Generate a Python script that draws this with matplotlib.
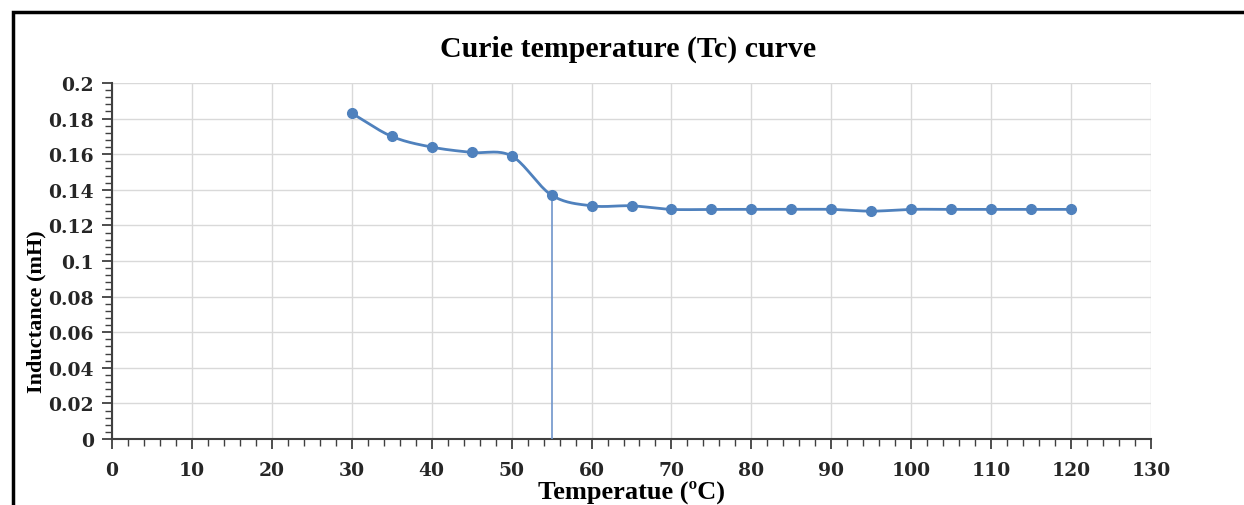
import numpy as np
import matplotlib.pyplot as plt
from matplotlib.patches import Rectangle
from matplotlib.ticker import MultipleLocator

temperature = [30, 35, 40, 45, 50, 55, 60, 65, 70, 75, 80, 85, 90, 95, 100, 105, 110, 115, 120]
inductance = [0.183, 0.170, 0.164, 0.161, 0.159, 0.137, 0.131, 0.131, 0.129, 0.129, 0.129,
              0.129, 0.129, 0.128, 0.129, 0.129, 0.129, 0.129, 0.129]
curie_temp = 55
curie_value = 0.137

blue = "#4F81BD"


def smooth_curve(xs, ys, steps=20):
    # catmull-rom through the points, like Excel's smoothed line
    xs = np.asarray(xs, float)
    ys = np.asarray(ys, float)
    px = np.concatenate([[2 * xs[0] - xs[1]], xs, [2 * xs[-1] - xs[-2]]])
    py = np.concatenate([[2 * ys[0] - ys[1]], ys, [2 * ys[-1] - ys[-2]]])
    out_x, out_y = [], []
    t = np.linspace(0, 1, steps, endpoint=False)
    for i in range(1, len(px) - 2):
        for p, out in ((px, out_x), (py, out_y)):
            p0, p1, p2, p3 = p[i - 1], p[i], p[i + 1], p[i + 2]
            out.extend(0.5 * (2 * p1 + (-p0 + p2) * t
                              + (2 * p0 - 5 * p1 + 4 * p2 - p3) * t ** 2
                              + (-p0 + 3 * p1 - 3 * p2 + p3) * t ** 3))
    out_x.append(xs[-1])
    out_y.append(ys[-1])
    return out_x, out_y


fig = plt.figure(figsize=(12.44, 5.06), dpi=100)
fig.patches.append(Rectangle((13 / 1244, -0.1), 1.2, 1 - 13 / 506 + 0.1,
                             transform=fig.transFigure, fill=False,
                             edgecolor="black", linewidth=2.5))

ax = fig.add_axes([112 / 1244, 1 - 440 / 506, (1151 - 112) / 1244, (440 - 84) / 506])

sx, sy = smooth_curve(temperature, inductance)
ax.plot(sx, sy, color=blue, linewidth=2, zorder=3)
ax.plot(temperature, inductance, "o", color=blue, markersize=7, zorder=4)
ax.plot([curie_temp, curie_temp], [0, curie_value], color="#6F95CB", linewidth=1.2, zorder=3)

ax.set_xlim(0, 130)
ax.set_ylim(0, 0.2)
ax.xaxis.set_major_locator(MultipleLocator(10))
ax.xaxis.set_minor_locator(MultipleLocator(2))
ax.yaxis.set_major_locator(MultipleLocator(0.02))
ax.yaxis.set_minor_locator(MultipleLocator(0.004))
ax.set_yticks(np.arange(0, 0.2001, 0.02))
ax.set_yticklabels(["0", "0.02", "0.04", "0.06", "0.08", "0.1", "0.12", "0.14",
                    "0.16", "0.18", "0.2"])

ax.grid(True, which="major", color="#D9D9D9", linewidth=1)
ax.set_axisbelow(True)
for side in ("top", "right"):
    ax.spines[side].set_visible(False)
for side in ("left", "bottom"):
    ax.spines[side].set_color("#404040")
    ax.spines[side].set_linewidth(1.5)

ax.tick_params(which="major", direction="out", length=7, width=1.3, color="#404040")
ax.tick_params(axis="x", which="major", pad=9)
ax.tick_params(axis="y", which="major", pad=6)
ax.tick_params(which="minor", direction="out", length=5, width=1, color="#404040")
for lbl in ax.get_xticklabels() + ax.get_yticklabels():
    lbl.set_fontfamily("DejaVu Serif")
    lbl.set_fontweight("bold")
    lbl.set_fontsize(13.5)
    lbl.set_color("#262626")

fig.text(628 / 1244, 1 - 49 / 506, "Curie temperature (Tc) curve", ha="center", va="center",
         family="Liberation Serif", weight="bold", fontsize=21.5)
fig.text(632 / 1244, 1 - 492 / 506, "Temperatue (\u00baC)", ha="center", va="center",
         family="Liberation Serif", weight="bold", fontsize=19)
fig.text(36 / 1244, 1 - 312 / 506, "Inductance (mH)", ha="center", va="center", rotation=90,
         family="Liberation Serif", weight="bold", fontsize=16)

fig.savefig("out.png", dpi=100)
